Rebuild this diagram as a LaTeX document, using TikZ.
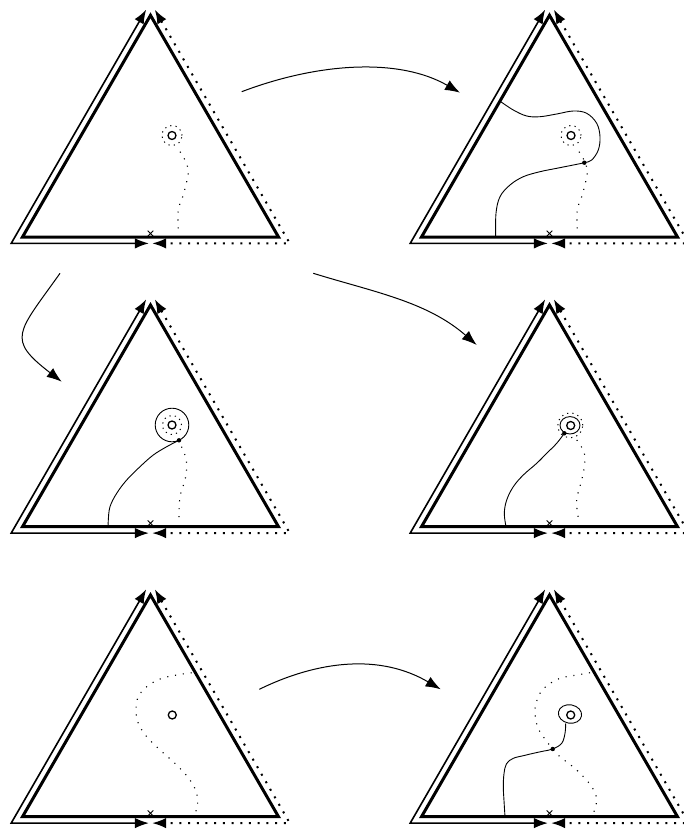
\documentclass[tikz,border=0pt]{standalone}
\usetikzlibrary{arrows.meta}
\tikzset{
  frame/.style={line width=3pt},
  outer/.style={line width=1.6pt},
  outerdots/.style={line width=2pt, dash pattern=on 2pt off 6.7pt},
  finedots/.style={line width=1.1pt, dash pattern=on 1.1pt off 6.8pt},
  ringdots/.style={line width=1pt, dash pattern=on 1.2pt off 4.2pt},
  thin curve/.style={line width=0.9pt},
  hole/.style={line width=1.3pt},
  crossmark/.style={line width=0.8pt},
  move/.style={line width=1pt, -{Latex[length=15pt,width=11pt]}},
  frametip/.style={{Latex[length=14pt,width=10.5pt]}-{Latex[length=14pt,width=10.5pt]}},
  tri/.pic={
    \coordinate (-A) at (0,-221.7);
    \coordinate (-B) at (-128,0);
    \coordinate (-C) at (128,0);
    \coordinate (-Bo) at (-139.3,6.4);
    \coordinate (-Co) at (139.3,6.4);
    \coordinate (-L) at (-4.3,-227.4);
    \coordinate (-R) at (4.3,-227.4);
    \coordinate (-ML) at (-1.6,6.4);
    \coordinate (-MR) at (1.6,6.4);
    \draw[frame] (-A) -- (-B) -- (-C) -- cycle;
    \draw[outer, frametip] (-L) -- (-Bo) -- (-ML);
    \draw[outerdots, frametip] (-R) -- (-Co) -- (-MR);
    \draw[crossmark] (-2.8,-6.3) -- (2.8,-0.7) (-2.8,-0.7) -- (2.8,-6.3);
  }
}
\begin{document}
\begin{tikzpicture}[x=1pt,y=-1pt]
\useasboundingbox (0,0) rectangle (684,830);

% frames
\pic (t1) at (150.5,237) {tri};
\pic (t2) at (549.5,237) {tri};
\pic (t3) at (150.5,526.7) {tri};
\pic (t4) at (549.5,526.7) {tri};
\pic (t5) at (150.5,816.7) {tri};
\pic (t6) at (549.5,816.7) {tri};

% panel 1
\begin{scope}[shift={(150.5,237)}]
  \coordinate (h1) at (21.5,-101.5);
  \draw[hole] (h1) circle[radius=4pt];
  \draw[ringdots] (h1) circle[radius=10pt];
  \draw[finedots] plot[smooth,tension=0.6] coordinates {(29.5,-85.3) (34.5,-77) (37.8,-67) (36.2,-55.3) (32.2,-40.3) (27.8,-27) (27.8,-7)};
\end{scope}

% panel 2
\begin{scope}[shift={(549.5,237)}]
  \coordinate (h2) at (21.5,-101.5);
  \coordinate (p2) at (34.8,-74.3);
  \draw[hole] (h2) circle[radius=4pt];
  \draw[ringdots] (h2) circle[radius=10pt];
  \draw[finedots] plot[smooth,tension=0.6] coordinates {(29.5,-85.3) (34.5,-77) (37.8,-67) (36.2,-55.3) (32.2,-40.3) (27.8,-27) (27.8,-7)};
  \draw[thin curve] plot[smooth,tension=0.6] coordinates {(-49,-135.5) (-36.2,-127) (-22.8,-121) (-9.5,-120.3) (7.2,-123) (23.8,-126) (37.2,-123.7) (47.2,-113.7) (50.5,-100.3) (48.8,-87) (42.2,-77) (34.8,-74.3) (23.8,-72) (7.2,-68.7) (-9.5,-65.3) (-26.2,-60.3) (-39.5,-52) (-49.5,-40.3) (-53.5,-23.7) (-53.8,0)};
  \fill (p2) circle[radius=2.2pt];
\end{scope}

% panel 3
\begin{scope}[shift={(150.5,526.7)}]
  \coordinate (h3) at (21.5,-101.7);
  \coordinate (p3) at (28.5,-86.4);
  \draw[hole] (h3) circle[radius=4pt];
  \draw[ringdots] (h3) circle[radius=9.5pt];
  \draw[thin curve] (h3) circle[radius=16.8pt];
  \draw[finedots] plot[smooth,tension=0.6] coordinates {(31,-80) (35,-70) (36.2,-60) (34.5,-46.7) (29.5,-30) (28.5,-8.7)};
  \draw[thin curve] plot[smooth,tension=0.6] coordinates {(28.5,-86.4) (16.2,-80) (2.8,-71.7) (-10.5,-60) (-23.8,-46.7) (-33.8,-33.4) (-40.5,-20) (-42.2,-6.7) (-42.2,0)};
  \fill (p3) circle[radius=2.2pt];
\end{scope}

% panel 4
\begin{scope}[shift={(549.5,526.7)}]
  \coordinate (h4) at (21.2,-101.2);
  \coordinate (p4) at (14.8,-93.4);
  \draw[hole] (h4) circle[radius=4pt];
  \draw[thin curve] (20.5,-101.4) circle[x radius=10pt, y radius=8.7pt];
  \draw[ringdots] (20.8,-101.4) circle[radius=12.5pt];
  \draw[finedots] plot[smooth,tension=0.6] coordinates {(27.2,-86.7) (33,-78) (35.5,-70) (34.5,-58) (32.2,-46.7) (27.2,-26.7) (28.8,-8.7)};
  \draw[thin curve] plot[smooth,tension=0.6] coordinates {(14.8,-93.4) (7.2,-83.4) (-2.8,-73.4) (-12.8,-63.4) (-26.2,-51.7) (-36.2,-40) (-42.8,-26.7) (-45.2,-13.4) (-43.5,0)};
  \fill (p4) circle[radius=2.2pt];
\end{scope}

% panel 5
\begin{scope}[shift={(150.5,816.7)}]
  \coordinate (h5) at (21.8,-101.7);
  \draw[hole] (h5) circle[radius=4pt];
  \draw[finedots] plot[smooth,tension=0.6] coordinates {(41.2,-144) (26.2,-141.7) (9.5,-137.7) (-3.8,-130) (-12.2,-120) (-14.5,-106.7) (-12.2,-93.4) (-3.8,-80) (9.5,-66.7) (26.2,-51.7) (39.5,-36.7) (46.2,-23.4) (46.8,-10) (43.5,-1.7)};
\end{scope}

% panel 6
\begin{scope}[shift={(549.5,816.7)}]
  \coordinate (h6) at (21.2,-101.7);
  \coordinate (p6) at (3.2,-67.7);
  \draw[hole] (h6) circle[radius=4pt];
  \draw[thin curve, rotate around={-10:(20.5,-102.7)}] (20.5,-102.7) circle[x radius=11.7pt, y radius=9.2pt];
  \draw[finedots] plot[smooth,tension=0.6] coordinates {(40.5,-144) (26,-141.5) (10.5,-138.4) (-2,-131.5) (-9.5,-123.4) (-13.5,-113) (-14.5,-103.4) (-12,-90) (-6.2,-80) (3.2,-67.7) (10.5,-60) (27.2,-46.7) (42.2,-30) (47.2,-16.7) (43.2,-1.7)};
  \draw[thin curve] plot[smooth,tension=0.6] coordinates {(16.2,-93.3) (15.5,-83.4) (12.2,-73.4) (3.2,-67.7) (-6.5,-65.5) (-16.2,-63.4) (-26.2,-61) (-36.2,-58.4) (-43,-53) (-45.5,-43) (-46.2,-30) (-45.5,-16) (-44.5,0)};
  \fill (p6) circle[radius=2.2pt];
\end{scope}

% moves between panels
\coordinate (a1s) at (241.7,91.7);
\coordinate (a1e) at (460,92.7);
\coordinate (a2s) at (60,273.3);
\coordinate (a2e) at (61.7,381.7);
\coordinate (a3s) at (313.3,273.3);
\coordinate (a3e) at (476.7,345);
\coordinate (a4s) at (259.3,689.3);
\coordinate (a4e) at (440.7,689.3);
\draw[move] (a1s) .. controls (320,62) and (400,58) .. (a1e);
\draw[move] (a2s) .. controls (17.4,333.3) and (6,338.7) .. (a2e);
\draw[move] (a3s) .. controls (373.3,291.9) and (426.7,301.3) .. (a3e);
\draw[move] (a4s) .. controls (319.3,660) and (380.7,654) .. (a4e);
\end{tikzpicture}
\end{document}
